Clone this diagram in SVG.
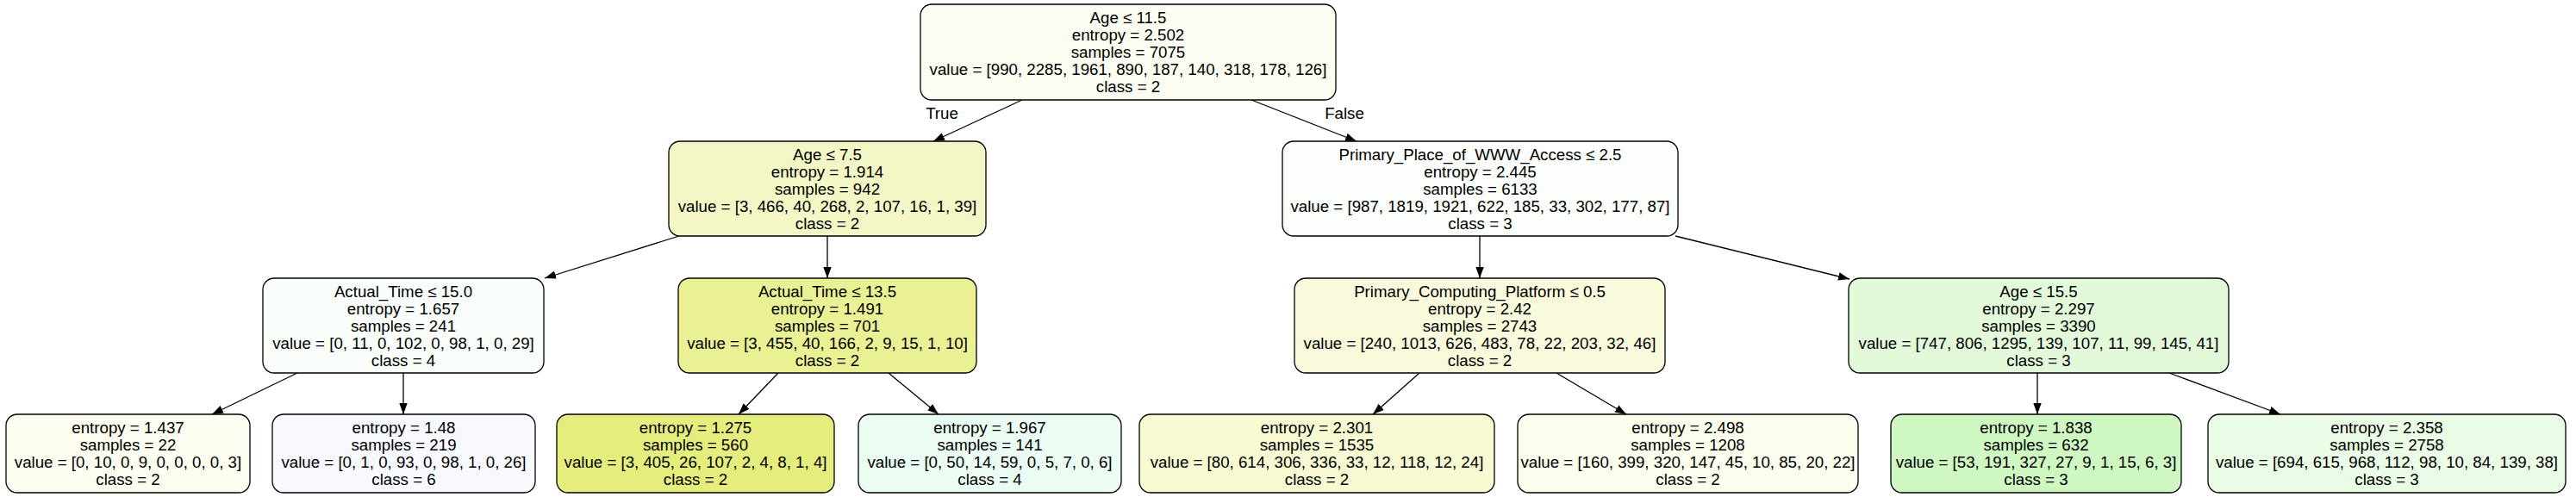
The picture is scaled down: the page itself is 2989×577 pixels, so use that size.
<svg xmlns="http://www.w3.org/2000/svg" width="2989" height="577" viewBox="0 0 2989 577">
<style>
.box{stroke:#000;stroke-width:1.3}
text{font-family:"Liberation Sans",Arial,Helvetica,sans-serif;font-size:18.7px;fill:#000;text-anchor:middle}
.edge{stroke:#000;stroke-width:1.3;fill:none;marker-end:url(#arr)}
</style>
<defs>
<marker id="arr" viewBox="0 0 13 10" refX="13" refY="5" markerWidth="13" markerHeight="10" markerUnits="userSpaceOnUse" orient="auto">
<path d="M0,0.3 L13,5 L0,9.7 z" fill="#000"/>
</marker>
</defs>
<rect width="2989" height="577" fill="#fff"/>
<g id="connectors">
<line class="edge" x1="1186" y1="116" x2="1083" y2="164"/>
<line class="edge" x1="1452" y1="116" x2="1574" y2="164"/>
<line class="edge" x1="788" y1="274" x2="632" y2="323"/>
<line class="edge" x1="960" y1="274" x2="960" y2="323"/>
<line class="edge" x1="1717" y1="274" x2="1717" y2="323"/>
<line class="edge" x1="1944" y1="274" x2="2146" y2="324"/>
<line class="edge" x1="345" y1="433" x2="246" y2="481"/>
<line class="edge" x1="468" y1="433" x2="468" y2="481"/>
<line class="edge" x1="903" y1="433" x2="857" y2="481"/>
<line class="edge" x1="1031" y1="433" x2="1089" y2="481"/>
<line class="edge" x1="1647" y1="433" x2="1593" y2="481"/>
<line class="edge" x1="1806" y1="433" x2="1887" y2="481"/>
<line class="edge" x1="2364" y1="433" x2="2364" y2="481"/>
<line class="edge" x1="2517" y1="433" x2="2646" y2="481"/>
<text x="1093" y="138">True</text>
<text x="1560" y="138">False</text>
</g>
<g id="node0">
<rect class="box" x="1068" y="5" width="482" height="111" rx="13" fill="#fcfdf2"/>
<text x="1309" y="27">Age ≤ 11.5</text>
<text x="1309" y="47">entropy = 2.502</text>
<text x="1309" y="67">samples = 7075</text>
<text x="1309" y="87">value = [990, 2285, 1961, 890, 187, 140, 318, 178, 126]</text>
<text x="1309" y="107">class = 2</text>
</g>
<g id="node1">
<rect class="box" x="776" y="164" width="368" height="110" rx="13" fill="#f3f7c5"/>
<text x="960" y="185.5">Age ≤ 7.5</text>
<text x="960" y="205.5">entropy = 1.914</text>
<text x="960" y="225.5">samples = 942</text>
<text x="960" y="245.5">value = [3, 466, 40, 268, 2, 107, 16, 1, 39]</text>
<text x="960" y="265.5">class = 2</text>
</g>
<g id="node2">
<rect class="box" x="1488" y="164" width="459" height="110" rx="13" fill="#fbfefa"/>
<text x="1717.5" y="185.5">Primary_Place_of_WWW_Access ≤ 2.5</text>
<text x="1717.5" y="205.5">entropy = 2.445</text>
<text x="1717.5" y="225.5">samples = 6133</text>
<text x="1717.5" y="245.5">value = [987, 1819, 1921, 622, 185, 33, 302, 177, 87]</text>
<text x="1717.5" y="265.5">class = 3</text>
</g>
<g id="node3">
<rect class="box" x="305" y="323" width="326" height="110" rx="13" fill="#f9fefb"/>
<text x="468" y="344.5">Actual_Time ≤ 15.0</text>
<text x="468" y="364.5">entropy = 1.657</text>
<text x="468" y="384.5">samples = 241</text>
<text x="468" y="404.5">value = [0, 11, 0, 102, 0, 98, 1, 0, 29]</text>
<text x="468" y="424.5">class = 4</text>
</g>
<g id="node4">
<rect class="box" x="787" y="323" width="346" height="110" rx="13" fill="#e9f194"/>
<text x="960" y="344.5">Actual_Time ≤ 13.5</text>
<text x="960" y="364.5">entropy = 1.491</text>
<text x="960" y="384.5">samples = 701</text>
<text x="960" y="404.5">value = [3, 455, 40, 166, 2, 9, 15, 1, 10]</text>
<text x="960" y="424.5">class = 2</text>
</g>
<g id="node5">
<rect class="box" x="1502" y="323" width="430" height="110" rx="13" fill="#f8fadb"/>
<text x="1717" y="344.5">Primary_Computing_Platform ≤ 0.5</text>
<text x="1717" y="364.5">entropy = 2.42</text>
<text x="1717" y="384.5">samples = 2743</text>
<text x="1717" y="404.5">value = [240, 1013, 626, 483, 78, 22, 203, 32, 46]</text>
<text x="1717" y="424.5">class = 2</text>
</g>
<g id="node6">
<rect class="box" x="2145" y="323" width="441" height="110" rx="13" fill="#e2fada"/>
<text x="2365.5" y="344.5">Age ≤ 15.5</text>
<text x="2365.5" y="364.5">entropy = 2.297</text>
<text x="2365.5" y="384.5">samples = 3390</text>
<text x="2365.5" y="404.5">value = [747, 806, 1295, 139, 107, 11, 99, 145, 41]</text>
<text x="2365.5" y="424.5">class = 3</text>
</g>
<g id="leaf1">
<rect class="box" x="7" y="481" width="283" height="91" rx="13" fill="#fcfdf0"/>
<text x="148.5" y="503">entropy = 1.437</text>
<text x="148.5" y="523">samples = 22</text>
<text x="148.5" y="543">value = [0, 10, 0, 9, 0, 0, 0, 0, 3]</text>
<text x="148.5" y="563">class = 2</text>
</g>
<g id="leaf2">
<rect class="box" x="316" y="481" width="305" height="91" rx="13" fill="#f7f9fe"/>
<text x="468.5" y="503">entropy = 1.48</text>
<text x="468.5" y="523">samples = 219</text>
<text x="468.5" y="543">value = [0, 1, 0, 93, 0, 98, 1, 0, 26]</text>
<text x="468.5" y="563">class = 6</text>
</g>
<g id="leaf3">
<rect class="box" x="646" y="481" width="322" height="91" rx="13" fill="#e5ee7d"/>
<text x="807" y="503">entropy = 1.275</text>
<text x="807" y="523">samples = 560</text>
<text x="807" y="543">value = [3, 405, 26, 107, 2, 4, 8, 1, 4]</text>
<text x="807" y="563">class = 2</text>
</g>
<g id="leaf4">
<rect class="box" x="996" y="481" width="305" height="91" rx="13" fill="#ebfcf3"/>
<text x="1148.5" y="503">entropy = 1.967</text>
<text x="1148.5" y="523">samples = 141</text>
<text x="1148.5" y="543">value = [0, 50, 14, 59, 0, 5, 7, 0, 6]</text>
<text x="1148.5" y="563">class = 4</text>
</g>
<g id="leaf5">
<rect class="box" x="1322" y="481" width="412" height="91" rx="13" fill="#f6f9d1"/>
<text x="1528" y="503">entropy = 2.301</text>
<text x="1528" y="523">samples = 1535</text>
<text x="1528" y="543">value = [80, 614, 306, 336, 33, 12, 118, 12, 24]</text>
<text x="1528" y="563">class = 2</text>
</g>
<g id="leaf6">
<rect class="box" x="1761" y="481" width="395" height="91" rx="13" fill="#fbfded"/>
<text x="1958.5" y="503">entropy = 2.498</text>
<text x="1958.5" y="523">samples = 1208</text>
<text x="1958.5" y="543">value = [160, 399, 320, 147, 45, 10, 85, 20, 22]</text>
<text x="1958.5" y="563">class = 2</text>
</g>
<g id="leaf7">
<rect class="box" x="2194" y="481" width="337" height="91" rx="13" fill="#cff7c2"/>
<text x="2362.5" y="503">entropy = 1.838</text>
<text x="2362.5" y="523">samples = 632</text>
<text x="2362.5" y="543">value = [53, 191, 327, 27, 9, 1, 15, 6, 3]</text>
<text x="2362.5" y="563">class = 3</text>
</g>
<g id="leaf8">
<rect class="box" x="2562" y="481" width="415" height="91" rx="13" fill="#eafce5"/>
<text x="2769.5" y="503">entropy = 2.358</text>
<text x="2769.5" y="523">samples = 2758</text>
<text x="2769.5" y="543">value = [694, 615, 968, 112, 98, 10, 84, 139, 38]</text>
<text x="2769.5" y="563">class = 3</text>
</g>
</svg>
